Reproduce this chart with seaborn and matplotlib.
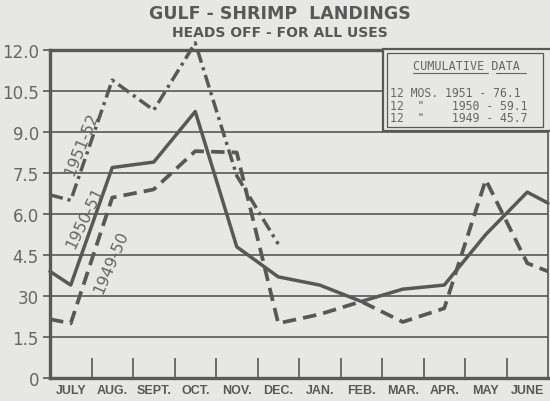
import numpy as np
import matplotlib
matplotlib.use("Agg")
import matplotlib.pyplot as plt
import seaborn as sns
from matplotlib.patches import Rectangle
from matplotlib.lines import Line2D

# ---------------- data ----------------
months = ["JULY", "AUG.", "SEPT.", "OCT.", "NOV.", "DEC.",
          "JAN.", "FEB.", "MAR.", "APR.", "MAY", "JUNE"]
positions = [-0.5, 0, 1, 2, 3, 4, 5, 6, 7, 8, 9, 10, 11, 11.5]
landings_1950_51 = [3.9, 3.4, 7.7, 7.9, 9.75, 4.8, 3.7, 3.4, 2.8, 3.25, 3.4, 5.25, 6.8, 6.4]
landings_1949_50 = [2.15, 2.0, 6.6, 6.9, 8.3, 8.25, 2.0, 2.33, 2.8, 2.05, 2.55, 7.25, 4.2, 3.9]
positions_1951_52 = [-0.5, 0, 1, 2, 3, 4, 5]
landings_1951_52 = [6.7, 6.5, 10.9, 9.8, 12.26, 7.4, 4.9]
y_ticks = [0, 1.5, 3.0, 4.5, 6.0, 7.5, 9.0, 10.5, 12.0]
y_tick_labels = ["0", "1.5", "30", "4.5", "6.0", "7.5", "9.0", "10.5", "12.0"]
series_labels = ["1951-52", "1950-51", "1949-50"]
cumulative_title = "CUMULATIVE DATA"
cumulative_lines = ["12 MOS. 1951 - 76.1",
                    '12  "    1950 - 59.1',
                    '12  "    1949 - 45.7']

# ---------------- style ----------------
sns.set_theme(style="white")
bg = "#e7e7e5"
ink = "#585858"
txt = "#666666"
plt.rcParams["font.family"] = ["DejaVu Sans"]

W, H = 550, 402
fig = plt.figure(figsize=(W / 100, H / 100), dpi=100, facecolor=bg)
ax = fig.add_axes([50 / W, 1 - 379 / H, 498 / W, 328 / H])
ax.set_facecolor(bg)

lw = 2.5
sns.lineplot(x=positions, y=landings_1950_51, ax=ax, color=ink, linewidth=lw,
             clip_on=False, zorder=4)
sns.lineplot(x=positions, y=landings_1949_50, ax=ax, color=ink, linewidth=lw + 0.2,
             clip_on=False, zorder=4)
ax.lines[-1].set_linestyle((0, (3.6, 1.9)))
sns.lineplot(x=positions_1951_52, y=landings_1951_52, ax=ax, color=ink, linewidth=lw,
             clip_on=False, zorder=4)
ax.lines[-1].set_linestyle((0, (3.8, 1.4, 0.9, 1.4)))
for ln in ax.lines:
    ln.set_dash_capstyle("butt")

ax.set_xlim(-0.5, 11.5)
ax.set_ylim(0, 12)

ax.set_xticks(range(len(months)), months)
ax.set_xticks(np.arange(0.5, 11, 1), minor=True)
ax.tick_params(axis="x", which="major", length=0, pad=4, labelsize=9, labelcolor=ink)
ax.tick_params(axis="x", which="minor", direction="in", length=14.5, width=1.2,
               color=ink, bottom=True)
for lab in ax.get_xticklabels():
    lab.set_fontfamily("Liberation Sans")
    lab.set_fontweight("bold")

ax.set_yticks(y_ticks, y_tick_labels)
ax.tick_params(axis="y", length=5, width=1.2, color=ink, left=True,
               labelsize=12, labelcolor=txt, pad=3)

ax.grid(axis="y", color=ink, linewidth=1.2)
ax.grid(axis="x", visible=False)
ax.set_axisbelow(True)

for side, w in [("left", 2.4), ("bottom", 2.4), ("top", 2.4), ("right", 1.2)]:
    ax.spines[side].set_visible(True)
    ax.spines[side].set_color(ink)
    ax.spines[side].set_linewidth(w)

# line labels
ax.text(0.26, 8.6, series_labels[0], rotation=68, ha="center", va="center",
        fontsize=11.5, color=txt, zorder=5)
ax.text(0.35, 5.9, series_labels[1], rotation=64, ha="center", va="center",
        fontsize=11.5, color=txt, zorder=5)
ax.text(0.98, 4.27, series_labels[2], rotation=67, ha="center", va="center",
        fontsize=11.5, color=txt, zorder=5)

# titles
fig.text(280 / W, 1 - 14 / H, "GULF - SHRIMP  LANDINGS", ha="center", va="center",
         fontsize=12.5, fontweight="bold", color=ink)
fig.text(280 / W, 1 - 33 / H, "HEADS OFF - FOR ALL USES", ha="center", va="center",
         fontsize=10, fontweight="bold", color=ink)

# cumulative data box
outer = Rectangle((383 / W, 1 - 132 / H), 175 / W, 82 / H, transform=fig.transFigure,
                  facecolor=bg, edgecolor=ink, linewidth=1.6, zorder=2)
inner = Rectangle((387 / W, 1 - 128 / H), 156 / W, 74 / H, transform=fig.transFigure,
                  facecolor="none", edgecolor=ink, linewidth=0.9, zorder=3)
fig.add_artist(outer)
fig.add_artist(inner)
mono = "DejaVu Sans Mono"
fig.text(413 / W, 1 - 67 / H, cumulative_title, ha="left", va="center",
         fontsize=8.5, family=mono, color=txt, zorder=4)
for (x0, x1) in [(413, 488), (496, 526)]:
    fig.add_artist(Line2D([x0 / W, x1 / W], [1 - 74 / H, 1 - 74 / H],
                          transform=fig.transFigure, color=txt, linewidth=0.8, zorder=4))
for i, line in enumerate(cumulative_lines):
    fig.text(390 / W, 1 - (94 + 12.5 * i) / H, line, ha="left", va="center",
             fontsize=8.3, family=mono, color=txt, zorder=4)

fig.savefig("out.png", dpi=100, facecolor=bg)
